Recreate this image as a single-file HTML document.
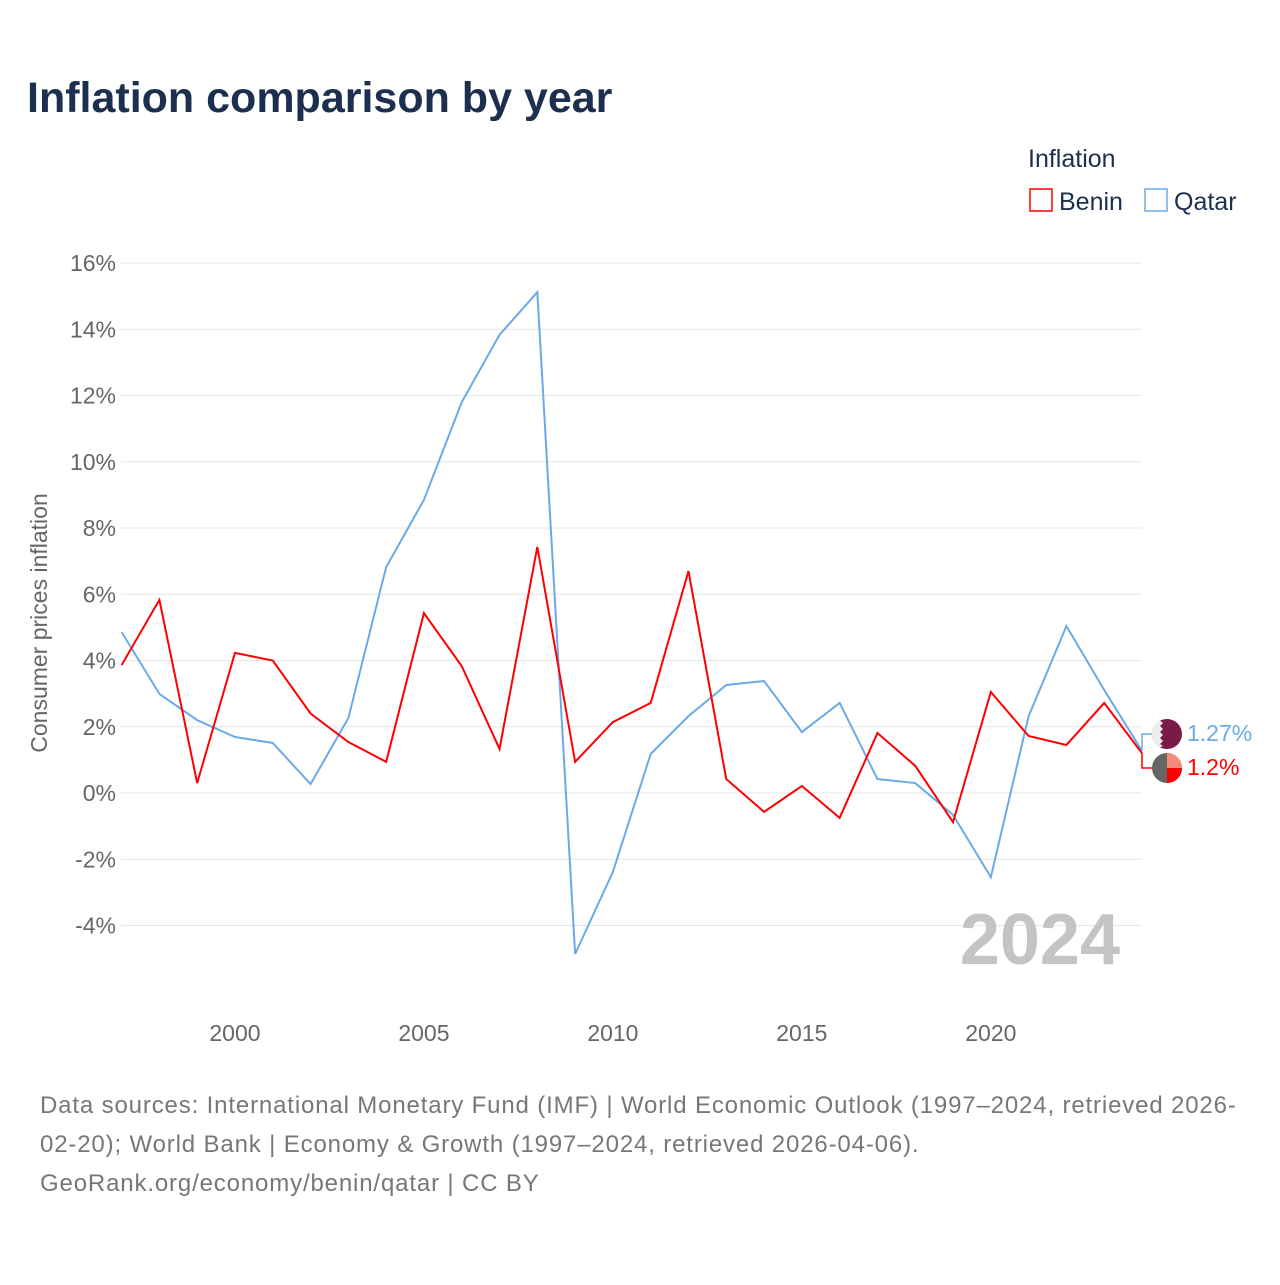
<!DOCTYPE html>
<html><head><meta charset="utf-8"><style>
body{margin:0;background:#fff;width:1280px;height:1280px;overflow:hidden;font-family:"Liberation Sans",sans-serif;}
</style></head><body>
<svg width="1280" height="1280" xmlns="http://www.w3.org/2000/svg">
<text x="27" y="112" font-size="43" font-weight="bold" fill="#1c2f4f">Inflation comparison by year</text>
<text x="1028" y="167" font-size="25" fill="#1c2f4f">Inflation</text>
<g><rect x="1030" y="189" width="22" height="22" fill="none" stroke="#f00" stroke-width="1.5"/><text x="1059" y="210" font-size="25" fill="#1c2f4f">Benin</text></g>
<g><rect x="1145" y="189" width="22" height="22" fill="none" stroke="#6aaae8" stroke-width="1.5"/><text x="1174" y="210" font-size="25" fill="#1c2f4f">Qatar</text></g>
<g id="grid"></g>
<g id="series"></g>
<text x="47" y="623" font-size="23" fill="#666" transform="rotate(-90 47 623)" text-anchor="middle">Consumer prices inflation</text>
<text x="1120" y="964" font-size="72" font-weight="bold" fill="#c4c4c4" text-anchor="end">2024</text>
<g><circle cx="1167" cy="734" r="15" fill="#7a1a48"/><path d="M1160 720.7 L1163 723 1160 726 1163 729 1160 732 1163 735 1160 738 1163 741 1160 744 1163 746 1160 747.3 A15 15 0 0 1 1160 720.7Z" fill="#eee"/></g>
<g><circle cx="1167" cy="768" r="15" fill="#666"/><path d="M1167 753 A15 15 0 0 1 1182 768 L1167 768Z" fill="#f88a7a"/><path d="M1182 768 A15 15 0 0 1 1167 783 L1167 768Z" fill="#f00"/></g>
<text x="1187" y="741" font-size="23" fill="#6aaae8">1.27%</text>
<text x="1187" y="775" font-size="23" fill="#f00">1.2%</text>
<text font-size="24" fill="#777" letter-spacing="0.85"><tspan x="40" y="1113">Data sources: International Monetary Fund (IMF) | World Economic Outlook (1997–2024, retrieved 2026-</tspan><tspan x="40" y="1152">02-20); World Bank | Economy &amp; Growth (1997–2024, retrieved 2026-04-06).</tspan><tspan x="40" y="1191">GeoRank.org/economy/benin/qatar | CC BY</tspan></text>
</svg>
<script>
const years=[1997,1998,1999,2000,2001,2002,2003,2004,2005,2006,2007,2008,2009,2010,2011,2012,2013,2014,2015,2016,2017,2018,2019,2020,2021,2022,2023,2024];
const benin=[3.86,5.83,0.3,4.23,4.0,2.4,1.54,0.94,5.43,3.83,1.33,7.43,0.94,2.14,2.72,6.7,0.42,-0.57,0.21,-0.75,1.81,0.82,-0.88,3.05,1.72,1.45,2.72,1.2];
const qatar=[4.86,2.99,2.2,1.69,1.51,0.27,2.26,6.82,8.85,11.8,13.83,15.12,-4.86,-2.38,1.18,2.32,3.26,3.38,1.84,2.72,0.42,0.3,-0.66,-2.54,2.32,5.04,3.11,1.27];
const yTicks=[-4,-2,0,2,4,6,8,10,12,14,16];
const xTicks=[2000,2005,2010,2015,2020];
const NS="http://www.w3.org/2000/svg";
const x=v=>121.6+(v-1997)*(1142-121.6)/27;
const y=v=>793-v*33.125;
const grid=document.getElementById('grid');
yTicks.forEach(t=>{
 const l=document.createElementNS(NS,'line');
 l.setAttribute('x1',121);l.setAttribute('x2',1142);l.setAttribute('y1',y(t));l.setAttribute('y2',y(t));
 l.setAttribute('stroke','#e6e6e6');l.setAttribute('stroke-width','1');
 
 
 grid.appendChild(l);
 const tx=document.createElementNS(NS,'text');
 tx.setAttribute('x',116);tx.setAttribute('y',y(t)+8);tx.setAttribute('text-anchor','end');
 tx.setAttribute('font-size','23');tx.setAttribute('fill','#666');tx.textContent=t+'%';
 
 
 grid.appendChild(tx);
});
xTicks.forEach(t=>{
 const tx=document.createElementNS(NS,'text');
 tx.setAttribute('x',x(t));tx.setAttribute('y',1041);tx.setAttribute('text-anchor','middle');
 tx.setAttribute('font-size','23');tx.setAttribute('fill','#666');tx.textContent=t;
 
 
 grid.appendChild(tx);
});
const s=document.getElementById('series');
function line(vals,color,name){
 const p=document.createElementNS(NS,'polyline');
 p.setAttribute('points',vals.map((v,i)=>x(years[i])+','+y(v)).join(' '));
 p.setAttribute('fill','none');p.setAttribute('stroke',color);p.setAttribute('stroke-width','2');
 
 
 s.appendChild(p);
}
line(qatar,'#6aaae8','qatar-line');
line(benin,'#f00','benin-line');
const cq=document.createElementNS(NS,'path');
cq.setAttribute('d','M1142 '+y(qatar[27])+' V734 H1152');cq.setAttribute('fill','none');cq.setAttribute('stroke','#6aaae8');cq.setAttribute('stroke-width','1.5');


s.appendChild(cq);
const cb=document.createElementNS(NS,'path');
cb.setAttribute('d','M1142 '+y(benin[27])+' V768 H1152');cb.setAttribute('fill','none');cb.setAttribute('stroke','#f00');cb.setAttribute('stroke-width','1.5');


s.appendChild(cb);
</script>
</body></html>
